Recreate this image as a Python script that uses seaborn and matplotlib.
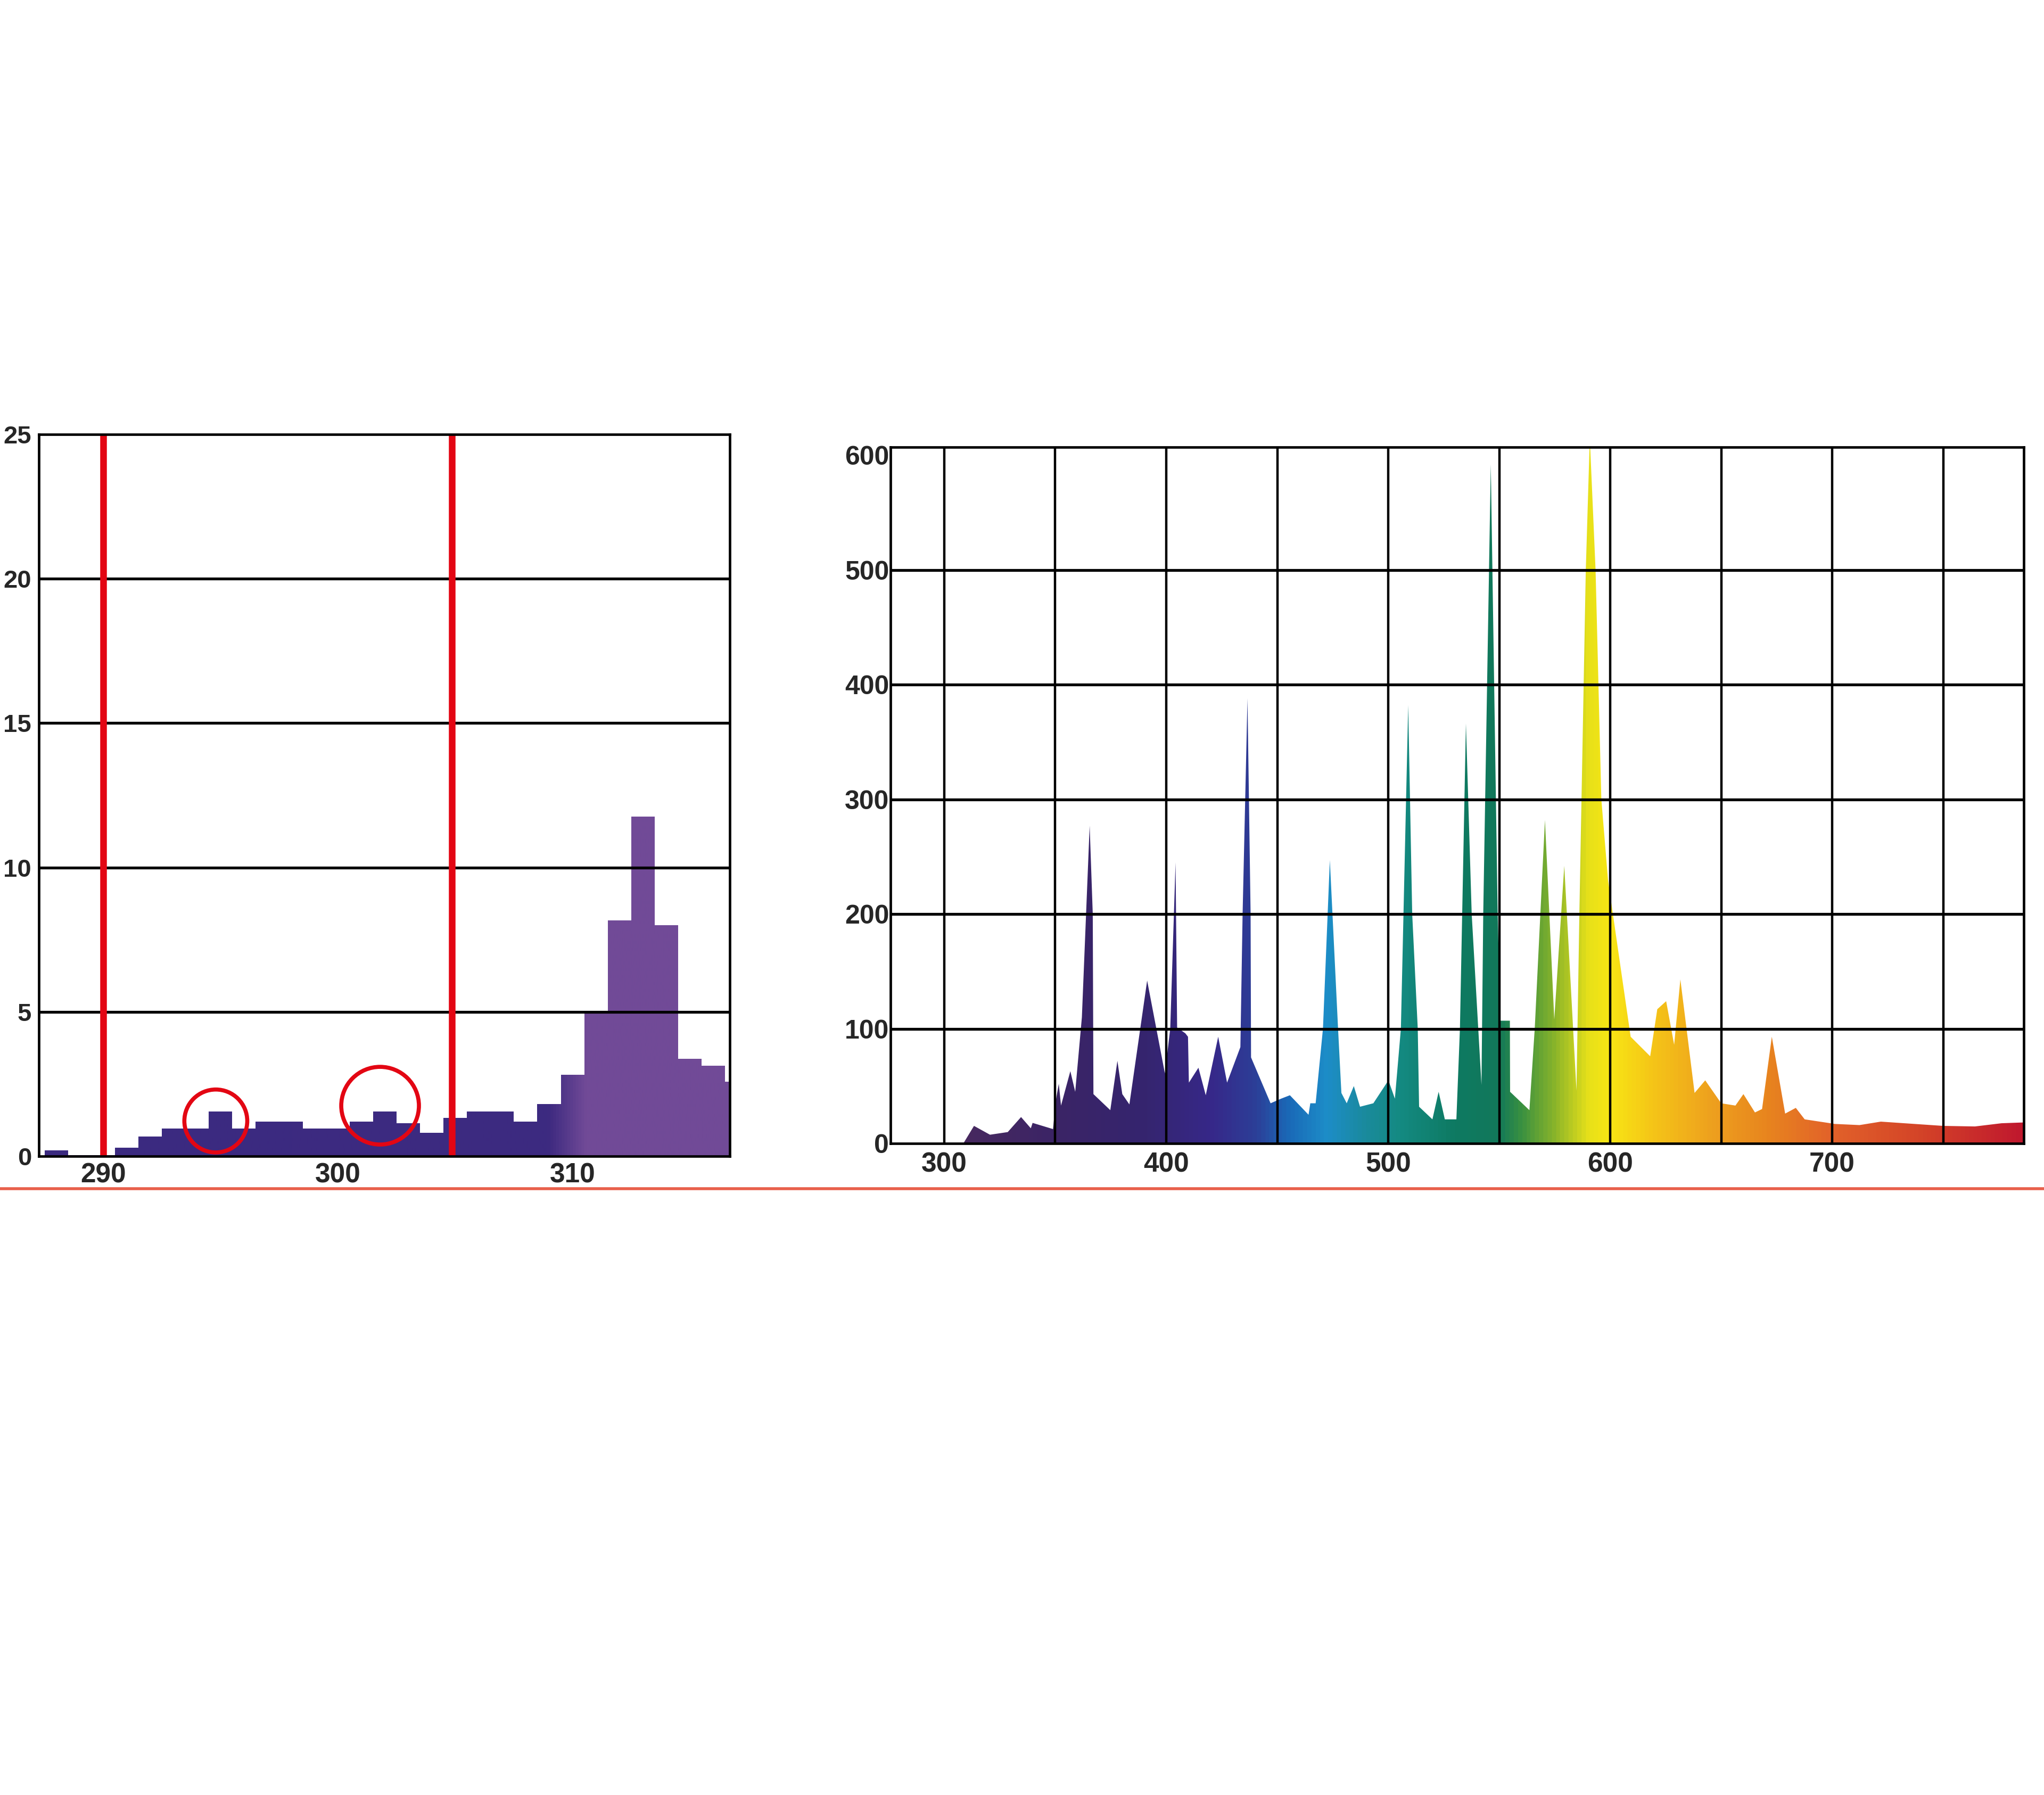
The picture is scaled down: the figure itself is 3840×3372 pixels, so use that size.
import numpy as np
import pandas as pd
import matplotlib
matplotlib.use("Agg")
import matplotlib.pyplot as plt
from matplotlib.colors import LinearSegmentedColormap
from matplotlib.patches import Ellipse
from matplotlib.lines import Line2D
import seaborn as sns

# --- left panel: UV-B detail (1 nm bins) ---
uv_wavelength = [288, 289, 290, 291, 292, 293, 294, 295, 296, 297, 298, 299, 300, 301, 302,
                 303, 304, 305, 306, 307, 308, 309, 310, 311, 312, 313, 314, 315, 316, 317]
uv_value = [0.2, 0.04, 0.04, 0.3, 0.68, 0.96, 0.96, 1.55, 0.96, 1.2, 1.2, 0.96, 0.96, 1.2, 1.55,
            1.15, 0.82, 1.33, 1.55, 1.55, 1.2, 1.8, 2.82, 4.95, 8.17, 11.76, 8.0, 3.38, 3.13, 2.58]
uv_marks = [290, 304.85]
uv_circle_x = [294.8, 301.8]
uv_circle_y = [1.22, 1.75]
uv_circle_w = [2.68, 3.31]
uv_circle_h = [2.18, 2.69]
uv_xticks = [290, 300, 310]
uv_yticks = [0, 5, 10, 15, 20, 25]
uv_stops = [(287.0, "#3b2a80"), (309.0, "#3d2a80"), (310.6, "#714a97"), (318.0, "#714a97")]

# --- right panel: full lamp spectrum ---
spec_wavelength = [300, 308.6, 313.4, 320.6, 328.6, 334.6, 339.0, 339.8, 349.0, 350.3, 351.6, 352.6,
                   356.8, 359.0, 362.0, 365.5, 366.9, 367.2, 374.8, 378.0, 380.2, 383.4, 391.4, 399.4,
                   401.8, 404.2, 404.9, 408.6, 409.8, 410.2, 414.5, 417.8, 423.4, 427.4, 433.4, 434.4,
                   436.6, 438.0, 438.2, 447.0, 451.7, 455.7, 464.1, 464.9, 467.3, 470.6, 473.7, 477.4,
                   478.9, 481.3, 484.5, 487.3, 493.3, 500.1, 503.0, 505.7, 509.0, 510.8, 513.3, 513.9,
                   519.9, 522.7, 525.5, 530.7, 532.3, 535.0, 537.6, 542.0, 542.8, 546.2, 549.3, 550.5,
                   554.8, 554.9, 563.6, 566.0, 570.6, 574.8, 579.3, 584.8, 586.1, 589.0, 590.8, 593.4,
                   596.0, 599.0, 601.2, 609.2, 618.0, 621.2, 625.2, 628.8, 631.6, 638.0, 642.8, 650.0,
                   656.4, 660.0, 665.2, 668.4, 672.8, 678.8, 683.6, 687.6, 701.2, 712.3, 721.9, 749.9,
                   764.3, 776.3, 786.3]
spec_value = [0, 0, 15.3, 7.6, 9.9, 23, 13.2, 17.9, 12.5, 38, 52, 33,
              63, 45, 110, 277, 200, 43, 29, 72, 43, 34, 142, 61,
              100, 245, 101, 96, 93, 53, 66, 42, 93, 53, 84, 200,
              388, 200, 75, 35, 39, 42, 25, 35, 35, 100, 247, 100,
              44, 35, 50, 32, 35, 55, 39, 100, 382, 200, 100, 32,
              21, 45, 21, 21, 100, 366, 200, 51, 200, 592, 200, 107,
              107, 45, 29, 100, 282, 108, 242, 46, 200, 500, 615, 500,
              300, 230, 200, 93, 76, 117, 124, 86, 143, 44, 55, 35,
              33, 43, 27, 30, 93, 26, 31, 21, 17, 16, 19, 15.3,
              14.8, 17.6, 18.3]
spec_xticks = [300, 350, 400, 450, 500, 550, 600, 650, 700, 750]
spec_xlabels = ["300", "", "400", "", "500", "", "600", "", "700", ""]
spec_yticks = [0, 100, 200, 300, 400, 500, 600]
spec_grid_y = [100, 200, 300, 400, 500]
spec_stops = [(300, "#4a2a5e"), (350, "#3b2466"), (390, "#35256f"), (420, "#372889"),
              (440, "#2c3f98"), (455, "#1a6ab8"), (472, "#1d8dc8"), (490, "#1a8a9c"),
              (505, "#148a82"), (530, "#0e7a62"), (550, "#12785a"), (560, "#3a9140"),
              (575, "#8ab42a"), (590, "#e6e01a"), (600, "#f8e614"), (620, "#f5c418"),
              (645, "#eea21e"), (670, "#e8861e"), (700, "#e2622a"), (740, "#d44428"),
              (786.3, "#c0182e")]

sns.set_theme(style="white")
plt.rcParams['font.family'] = ['Liberation Sans', 'DejaVu Sans']
plt.rcParams['font.weight'] = 'bold'

fig = plt.figure(figsize=(38.4, 33.72), dpi=100)
fig.patch.set_facecolor("white")


def make_cmap(stops, lo, hi):
    pos = [(w - lo) / (hi - lo) for w, _ in stops]
    return LinearSegmentedColormap.from_list("g", list(zip(pos, [c for _, c in stops])))


def gradient_fill(ax, coll, stops, x0, x1, ytop):
    # horizontal colour ramp clipped to the filled shape
    lo, hi = stops[0][0], stops[-1][0]
    cmap = make_cmap(stops, lo, hi)
    wl = np.linspace(x0, x1, 1500)
    rgb = cmap((wl - lo) / (hi - lo))
    im = ax.imshow(rgb[np.newaxis, :, :], extent=[x0, x1, 0, ytop], aspect="auto",
                   origin="lower", interpolation="bilinear", zorder=1)
    im.set_clip_path(coll.get_paths()[0], transform=ax.transData)
    coll.set_visible(False)


def style_spines(ax):
    for s in ax.spines.values():
        s.set_visible(True)
        s.set_color("black")
        s.set_linewidth(3.4)
        s.set_zorder(4)


# ---------- left ----------
axl = fig.add_axes([0.01901, 0.35587, 0.33802, 0.40214])
uv_df = pd.DataFrame({"wl": uv_wavelength, "val": uv_value})
edges = [w - 0.5 for w in uv_wavelength] + [uv_wavelength[-1] + 0.5]
sns.histplot(data=uv_df, x="wl", weights="val", bins=edges, element="step", fill=True,
             linewidth=0, color="#3b2a80", ax=axl)
gradient_fill(axl, axl.collections[0], uv_stops, edges[0], edges[-1], 30)
axl.set_xlim(287.26, 316.7)
axl.set_ylim(0, 25)
axl.set_xlabel("")
axl.set_ylabel("")
axl.set_xticks(uv_xticks)
axl.set_yticks(uv_yticks)
axl.set_axisbelow(False)
axl.grid(False)
for v in uv_yticks[1:-1]:
    axl.axhline(v, color="black", lw=3.8, zorder=2)
for m in uv_marks:
    axl.axvline(m, color="#e30613", lw=9, zorder=3)
for cx, cy, w, h in zip(uv_circle_x, uv_circle_y, uv_circle_w, uv_circle_h):
    axl.add_patch(Ellipse((cx, cy), w, h, fill=False, edgecolor="#e30613", lw=5.5, zorder=3))
axl.tick_params(axis="x", length=0, pad=8, labelsize=37)
axl.tick_params(axis="y", length=0, pad=10, labelsize=34)
style_spines(axl)

# ---------- right ----------
axr = fig.add_axes([0.43568, 0.36299, 0.55443, 0.38790])
poly = axr.fill_between(spec_wavelength, spec_value, 0, color="#888888", lw=0)
gradient_fill(axr, poly, spec_stops, spec_wavelength[0], spec_wavelength[-1], 640)
axr.set_xlim(275.8, 786.3)
axr.set_ylim(0, 607)
axr.set_xticks(spec_xticks)
axr.set_xticklabels(spec_xlabels)
axr.set_yticks(spec_yticks)
axr.set_axisbelow(False)
axr.grid(False)
for x in spec_xticks:
    axr.axvline(x, color="black", lw=3.2, zorder=2)
for v in spec_grid_y:
    axr.axhline(v, color="black", lw=3.8, zorder=2)
axr.tick_params(axis="x", length=0, pad=11, labelsize=37)
axr.tick_params(axis="y", length=0, pad=2, labelsize=36)
style_spines(axr)

# thin separator rule across the page
fig.add_artist(Line2D([0, 1], [0.3378, 0.3378], transform=fig.transFigure,
                      color="#e8604c", lw=4))

fig.savefig("out.png", dpi=100, facecolor="white")
